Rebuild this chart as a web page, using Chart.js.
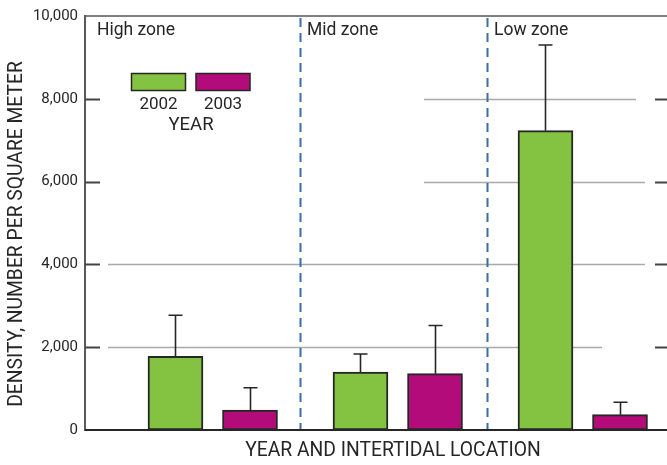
<!DOCTYPE html>
<html>
<head>
<meta charset="utf-8">
<title>Density by year and intertidal location</title>
<script src="https://cdn.jsdelivr.net/npm/chart.js@4.4.1/dist/chart.umd.min.js"></script>
<style>
  html, body { margin: 0; padding: 0; background: #ffffff; }
  #wrap { width: 667px; height: 465px; position: relative; }
</style>
</head>
<body>
<div id="wrap"><canvas id="chart"></canvas></div>
<script>
// Intertidal zones and sampling years
const zones = ['High zone', 'Mid zone', 'Low zone'];
const years = ['2002', '2003'];

// Mean density, number per square meter
const density2002 = [1780, 1400, 7230];
const density2003 = [480, 1360, 370];

// Upper error (standard deviation) for each mean
const error2002 = [990, 435, 2070];
const error2003 = [540, 1165, 300];

// Value axis ticks
const yTicks = [0, 2000, 4000, 6000, 8000, 10000];

// ---- layout helpers (x scale runs in zone units) ----
const PAIR_OFFSET = 0.2014;             // half distance between the two bars of a zone
const X_MIN = -0.6905, X_MAX = 2.4554;
const DIVIDERS = [0.4716, 1.4824];      // dashed separators between zones
const zoneX = (i, j) => i + (j === 0 ? -PAIR_OFFSET : PAIR_OFFSET);

const GREEN = '#84c241';
const MAGENTA = '#b30c7a';
const INK = '#262626';
const FONT = 'Roboto, "Liberation Sans", Arial, sans-serif';

// Partial horizontal reference lines [value, xFrom, xTo] in zone units
const refLines = [
  [8000, 1.142, 2.288],
  [6000, 1.142, 2.336],
  [4000, -0.566, 2.336],
  [2000, -0.566, 2.104]
];

const errorSets = [error2002, error2003];

const decorations = {
  id: 'decorations',
  beforeDatasetsDraw(chart) {
    const { ctx, chartArea: a, scales: { x, y } } = chart;
    ctx.save();
    // reference lines
    ctx.strokeStyle = '#a9a9a9';
    ctx.lineWidth = 1.5;
    refLines.forEach(([v, x0, x1]) => {
      const py = Math.round(y.getPixelForValue(v)) + 0.5;
      ctx.beginPath();
      ctx.moveTo(x.getPixelForValue(x0), py);
      ctx.lineTo(x.getPixelForValue(x1), py);
      ctx.stroke();
    });
    // tick marks inside the frame, left and right
    ctx.strokeStyle = '#444';
    ctx.lineWidth = 2;
    yTicks.filter(v => v > 0 && v < 10000).forEach(v => {
      const py = Math.round(y.getPixelForValue(v)) + 0.5;
      ctx.beginPath();
      ctx.moveTo(a.left, py); ctx.lineTo(a.left + 15, py);
      ctx.moveTo(a.right - 12, py); ctx.lineTo(a.right, py);
      ctx.stroke();
    });
    // top frame line
    ctx.strokeStyle = '#555';
    ctx.lineWidth = 1.5;
    ctx.beginPath();
    ctx.moveTo(a.left, a.top); ctx.lineTo(a.right, a.top);
    ctx.stroke();
    // dashed zone separators
    ctx.strokeStyle = '#3a6fa6';
    ctx.lineWidth = 2;
    ctx.setLineDash([9, 6]);
    DIVIDERS.forEach(d => {
      const px = Math.round(x.getPixelForValue(d)) + 0.5;
      ctx.beginPath();
      ctx.moveTo(px, a.top + 2); ctx.lineTo(px, a.bottom);
      ctx.stroke();
    });
    ctx.setLineDash([]);
    ctx.restore();
  },
  afterDatasetsDraw(chart) {
    const { ctx, chartArea: a, scales: { x, y } } = chart;
    ctx.save();
    // bottom axis line
    ctx.strokeStyle = INK;
    ctx.lineWidth = 2;
    ctx.beginPath();
    ctx.moveTo(a.left, a.bottom); ctx.lineTo(a.right, a.bottom);
    ctx.stroke();

    // error bars (upper only)
    ctx.strokeStyle = INK;
    ctx.lineWidth = 1.6;
    chart.data.datasets.forEach((ds, di) => {
      const meta = chart.getDatasetMeta(di);
      meta.data.forEach((bar, i) => {
        const top = y.getPixelForValue(ds.data[i].y + errorSets[di][i]);
        const px = Math.round(bar.x) + 0.5;
        ctx.beginPath();
        ctx.moveTo(px, bar.y);
        ctx.lineTo(px, top);
        ctx.moveTo(px - 7, top);
        ctx.lineTo(px + 7, top);
        ctx.stroke();
      });
    });

    // zone labels
    ctx.fillStyle = INK;
    ctx.textBaseline = 'middle';
    ctx.textAlign = 'left';
    ctx.font = '17.5px ' + FONT;
    const labelX = [a.left + 12, x.getPixelForValue(DIVIDERS[0]) + 7, x.getPixelForValue(DIVIDERS[1]) + 7];
    zones.forEach((z, i) => ctx.fillText(z, labelX[i], 31));

    // year key
    const colors = [GREEN, MAGENTA];
    const keyX = [131.5, 196];
    ctx.lineWidth = 1.5;
    ctx.strokeStyle = INK;
    years.forEach((yr, i) => {
      ctx.fillStyle = colors[i];
      ctx.fillRect(keyX[i], 73.5, 54, 17);
      ctx.strokeRect(keyX[i], 73.5, 54, 17);
      ctx.fillStyle = INK;
      ctx.textAlign = 'center';
      ctx.font = '17px ' + FONT;
      ctx.fillText(yr, keyX[i] + 27, 104.5);
    });
    ctx.font = '18.5px ' + FONT;
    ctx.fillText('YEAR', 191, 125.5);

    // axis titles
    ctx.font = '19.3px ' + FONT;
    ctx.textAlign = 'center';
    ctx.fillText('YEAR AND INTERTIDAL LOCATION', 393, 451.5);
    ctx.translate(17.5, 234);
    ctx.rotate(-Math.PI / 2);
    ctx.fillText('DENSITY, NUMBER PER SQUARE METER', 0, 0);
    ctx.restore();
  }
};

const barStyle = {
  borderColor: INK,
  borderWidth: 2,
  borderSkipped: false,
  barThickness: 55,
  grouped: false
};

new Chart(document.getElementById('chart'), {
  type: 'bar',
  data: {
    datasets: [
      Object.assign({
        label: years[0],
        data: density2002.map((v, i) => ({ x: zoneX(i, 0), y: v })),
        backgroundColor: GREEN
      }, barStyle),
      Object.assign({
        label: years[1],
        data: density2003.map((v, i) => ({ x: zoneX(i, 1), y: v })),
        backgroundColor: MAGENTA
      }, barStyle)
    ]
  },
  options: {
    responsive: true,
    maintainAspectRatio: false,
    devicePixelRatio: 1,
    animation: false,
    layout: { padding: { top: 14, right: 0, bottom: 35, left: 0 } },
    plugins: { legend: { display: false }, tooltip: { enabled: false } },
    scales: {
      x: {
        type: 'linear',
        display: false,
        offset: false,
        min: X_MIN,
        max: X_MAX
      },
      y: {
        min: 0,
        max: 10000,
        afterBuildTicks: s => { s.ticks = yTicks.map(v => ({ value: v })); },
        afterFit: s => { s.width = 85; },
        grid: { display: false, drawTicks: false },
        border: { display: true, color: '#5a5a5a', width: 2 },
        ticks: {
          padding: 7,
          color: INK,
          font: { family: FONT, size: 15 },
          callback: v => v.toLocaleString('en-US')
        }
      }
    }
  },
  plugins: [decorations]
});
</script>
</body>
</html>
